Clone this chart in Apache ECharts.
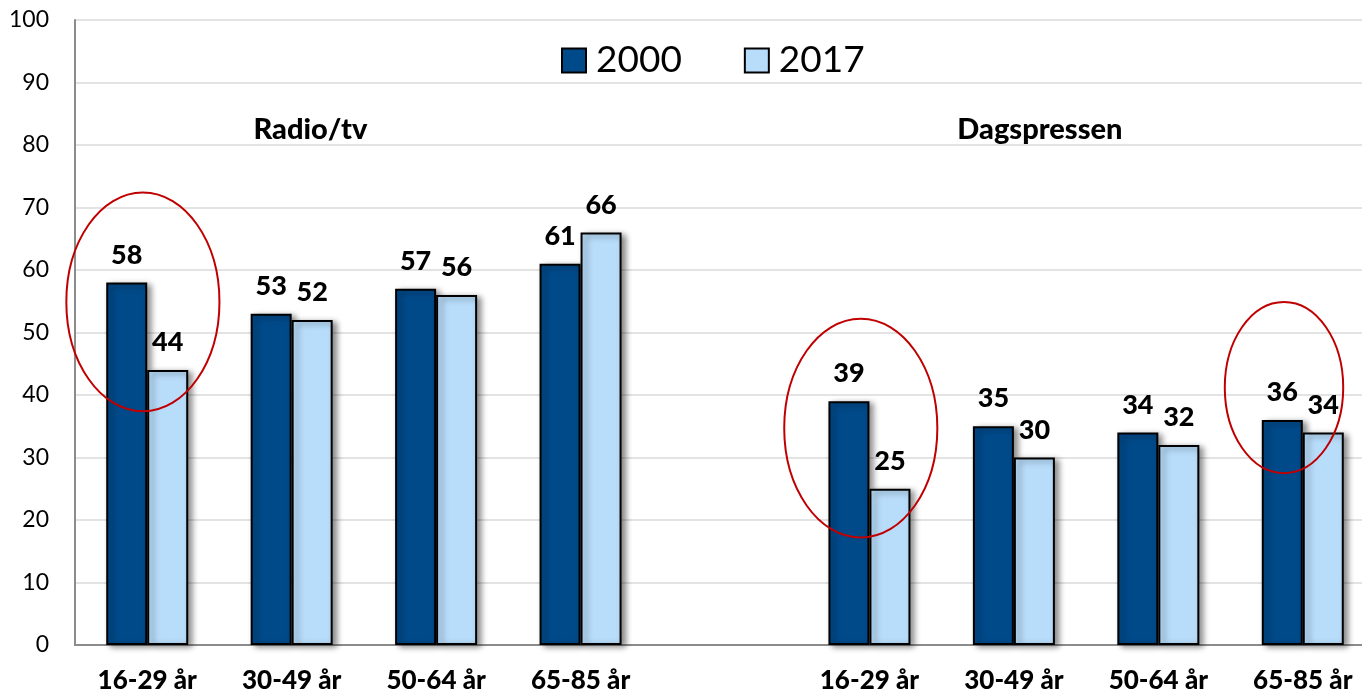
<!DOCTYPE html>
<html>
<head>
<meta charset="utf-8">
<script src="https://cdn.jsdelivr.net/npm/echarts@6/dist/echarts.min.js"></script>
<style>html,body{margin:0;padding:0;background:#fff;}#c{width:1362px;height:692px;}</style>
</head>
<body>
<div id="c"></div>
<script>
var categories = ['16-29 år', '30-49 år', '50-64 år', '65-85 år', '', '16-29 år', '30-49 år', '50-64 år', '65-85 år'];
var seriesNames = ['2000', '2017'];
var values2000 = [58, 53, 57, 61, null, 39, 35, 34, 36];
var values2017 = [44, 52, 56, 66, null, 25, 30, 32, 34];
var yTicks = [0, 10, 20, 30, 40, 50, 60, 70, 80, 90, 100];
var groupTitles = ['Radio/tv', 'Dagspressen'];
// annotation positions in data units: [categoryIndex (fractional), value]
var titlePos = [[1.13, 82.4], [6.18, 82.4]];
// ellipses: [catIndex center, value center, rx in category widths, ry in value units]
var ellipses = [[-0.03, 54.9, 0.53, 17.5], [4.94, 34.7, 0.53, 17.5], [7.87, 41.2, 0.41, 13.7]];

var FONT = 'Lato, "Open Sans", sans-serif';
var chart = echarts.init(document.getElementById('c'));
var shadow = {shadowColor: 'rgba(0,0,0,0.45)', shadowBlur: 6, shadowOffsetX: 4, shadowOffsetY: 2};
var lbl = {show: true, position: 'top', distance: 14, color: '#000', fontFamily: FONT, fontWeight: 900, fontSize: 27};
chart.setOption({
  animation: false,
  legend: {
    top: 37, left: 556, itemWidth: 24, itemHeight: 24, itemGap: 62, icon: 'rect',
    itemStyle: {borderColor: '#000', borderWidth: 2, shadowBlur: 0, shadowOffsetX: 0, shadowOffsetY: 0, shadowColor: 'transparent'},
    textStyle: {fontFamily: FONT, fontSize: 37, color: '#000', padding: [0, 0, 0, 5]},
    data: seriesNames
  },
  grid: {left: 75, width: 1300, top: 20, bottom: 47, outerBoundsMode: 'none', containLabel: false},
  xAxis: {
    type: 'category', data: categories,
    axisLine: {lineStyle: {color: '#8c8c8c', width: 2}},
    axisTick: {show: false},
    axisLabel: {interval: 0, margin: 23, color: '#000', fontFamily: FONT, fontWeight: 900, fontSize: 26}
  },
  yAxis: {
    type: 'value', min: yTicks[0], max: yTicks[yTicks.length - 1], interval: 10,
    axisLine: {show: true, lineStyle: {color: '#8c8c8c', width: 2}},
    axisTick: {show: false},
    splitLine: {lineStyle: {color: '#e3e3e3', width: 2}},
    axisLabel: {margin: 26, color: '#000', fontFamily: FONT, fontSize: 23}
  },
  series: [
    {name: seriesNames[0], type: 'bar', data: values2000, barWidth: 41, barGap: '0%',
     itemStyle: Object.assign({color: '#014a8a', borderColor: '#000', borderWidth: 2}, shadow), label: lbl},
    {name: seriesNames[1], type: 'bar', data: values2017, barWidth: 41, barGap: '0%',
     itemStyle: Object.assign({color: '#b8ddfb', borderColor: '#000', borderWidth: 2}, shadow), label: lbl}
  ]
});

function place() {
  var p0 = chart.convertToPixel({xAxisIndex: 0}, 0);
  var p1 = chart.convertToPixel({xAxisIndex: 0}, 1);
  var band = p1 - p0;
  var y0 = chart.convertToPixel({yAxisIndex: 0}, 0);
  var y10 = chart.convertToPixel({yAxisIndex: 0}, 10);
  var unit = (y0 - y10) / 10;
  var els = [];
  groupTitles.forEach(function (t, i) {
    els.push({type: 'text', x: p0 + titlePos[i][0] * band, y: y0 - titlePos[i][1] * unit,
      style: {text: t, fill: '#000', font: '900 29px ' + FONT, textAlign: 'center', textVerticalAlign: 'middle'}, z: 10});
  });
  ellipses.forEach(function (e) {
    els.push({type: 'ellipse', shape: {cx: p0 + e[0] * band, cy: y0 - e[1] * unit, rx: e[2] * band, ry: e[3] * unit},
      style: {fill: null, stroke: '#c00000', lineWidth: 2}, z: 10});
  });
  chart.setOption({graphic: els});
}
place();
</script>
</body>
</html>
